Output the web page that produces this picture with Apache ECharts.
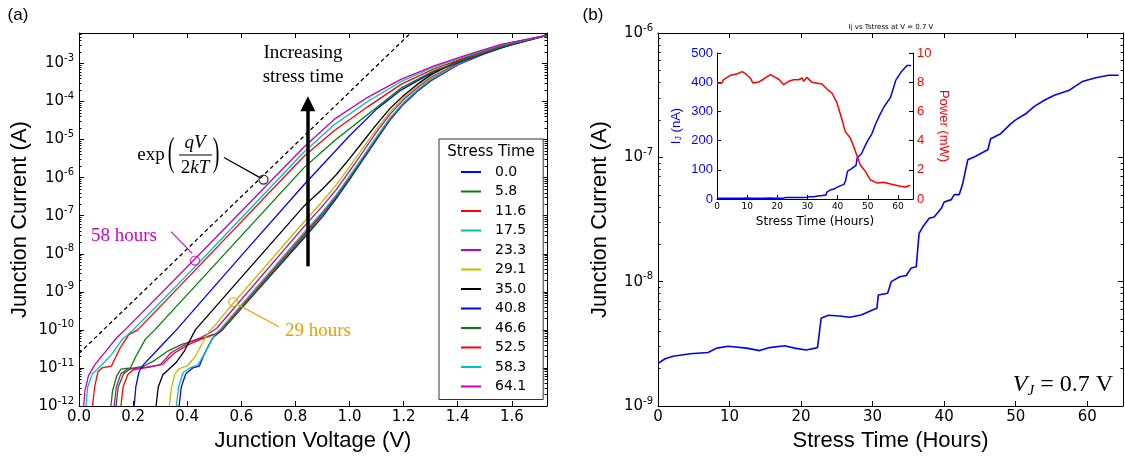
<!DOCTYPE html>
<html><head><meta charset="utf-8">
<script src="https://cdn.jsdelivr.net/npm/echarts@6/dist/echarts.min.js"></script>
<style>html,body{margin:0;padding:0;background:#fff}#c{width:1125px;height:459px}</style>
</head><body><div id="c"></div>
<script>
// ---------- Panel (a): I-V curves, values are [voltage V, log10(current A)] ----------
const stressLabels = ['0.0','5.8','11.6','17.5','23.3','29.1','35.0','40.8','46.6','52.5','58.3','64.1'];
const iv_00 = [[0.37,-12],[0.378,-11.5],[0.395,-11.15],[0.42,-11.0],[0.445,-10.95],[0.465,-10.6],[0.495,-10.2],[0.53,-10.0],[0.83,-7.6],[0.9,-7.03],[0.95,-6.56],[1.0,-6.05],[1.05,-5.53],[1.1,-5.0],[1.15,-4.48],[1.2,-4.07],[1.25,-3.74],[1.3,-3.46],[1.4,-3.04],[1.5,-2.74],[1.6,-2.5],[1.73,-2.26]];
const iv_05 = [[0.137,-12],[0.145,-11.5],[0.165,-11.15],[0.19,-11.02],[0.24,-10.95],[0.28,-10.8],[0.33,-10.55],[0.38,-10.38],[0.44,-10.25],[0.5,-10.12],[0.53,-10.0],[0.83,-7.55],[0.9,-6.97],[0.95,-6.51],[1.0,-6.01],[1.05,-5.5],[1.1,-4.97],[1.15,-4.46],[1.2,-4.05],[1.25,-3.72],[1.3,-3.44],[1.4,-3.03],[1.5,-2.73],[1.6,-2.49],[1.73,-2.26]];
const iv_11 = [[0.155,-12],[0.163,-11.5],[0.18,-11.18],[0.2,-11.05],[0.26,-10.98],[0.31,-10.9],[0.35,-10.62],[0.4,-10.4],[0.45,-10.25],[0.5,-10.12],[0.525,-10.0],[0.83,-7.5],[0.9,-6.93],[0.95,-6.48],[1.0,-5.98],[1.05,-5.47],[1.1,-4.95],[1.15,-4.44],[1.2,-4.04],[1.25,-3.71],[1.3,-3.43],[1.4,-3.03],[1.5,-2.72],[1.6,-2.49],[1.73,-2.26]];
const iv_17 = [[0.36,-12],[0.368,-11.5],[0.385,-11.12],[0.41,-11.0],[0.44,-10.92],[0.47,-10.55],[0.5,-10.15],[0.52,-10.0],[0.83,-7.45],[0.9,-6.9],[0.95,-6.46],[1.0,-5.96],[1.05,-5.45],[1.1,-4.93],[1.15,-4.43],[1.2,-4.03],[1.25,-3.7],[1.3,-3.42],[1.4,-3.02],[1.5,-2.72],[1.6,-2.48],[1.73,-2.26]];
const iv_23 = [[0.13,-12],[0.138,-11.5],[0.155,-11.15],[0.18,-11.03],[0.25,-10.98],[0.3,-10.92],[0.34,-10.6],[0.4,-10.35],[0.45,-10.2],[0.49,-10.05],[0.51,-9.95],[0.83,-7.3],[0.9,-6.75],[0.95,-6.32],[1.0,-5.83],[1.05,-5.32],[1.1,-4.8],[1.15,-4.33],[1.2,-3.95],[1.25,-3.64],[1.3,-3.37],[1.4,-2.99],[1.5,-2.7],[1.6,-2.47],[1.73,-2.26]];
const iv_29 = [[0.334,-12],[0.342,-11.5],[0.355,-11.15],[0.37,-11.02],[0.4,-10.95],[0.43,-10.7],[0.46,-10.3],[0.48,-10.05],[0.5,-9.9],[0.57,-9.3],[0.83,-7.18],[0.9,-6.62],[0.95,-6.2],[1.0,-5.72],[1.05,-5.22],[1.1,-4.72],[1.15,-4.27],[1.2,-3.9],[1.25,-3.6],[1.3,-3.34],[1.4,-2.97],[1.5,-2.69],[1.6,-2.46],[1.73,-2.26]];
const iv_35 = [[0.285,-12],[0.293,-11.5],[0.31,-11.18],[0.33,-11.05],[0.36,-10.85],[0.39,-10.55],[0.43,-10.0],[0.6,-8.62],[0.83,-6.76],[0.9,-6.3],[0.95,-5.93],[1.0,-5.5],[1.05,-5.05],[1.1,-4.6],[1.15,-4.18],[1.2,-3.84],[1.25,-3.55],[1.3,-3.3],[1.4,-2.93],[1.5,-2.66],[1.6,-2.45],[1.73,-2.26]];
const iv_40 = [[0.204,-12],[0.21,-11.5],[0.222,-11.1],[0.24,-10.9],[0.28,-10.6],[0.32,-10.3],[0.36,-10.0],[0.6,-8.05],[0.83,-6.2],[1.0,-4.9],[1.1,-4.2],[1.19,-3.7],[1.31,-3.22],[1.44,-2.88],[1.56,-2.59],[1.73,-2.26]];
const iv_46 = [[0.118,-12],[0.124,-11.6],[0.14,-11.2],[0.155,-11.03],[0.19,-11.0],[0.21,-10.7],[0.245,-10.25],[0.28,-10.0],[0.424,-8.89],[0.83,-5.75],[0.943,-5.04],[1.067,-4.34],[1.19,-3.65],[1.31,-3.2],[1.44,-2.86],[1.56,-2.57],[1.73,-2.26]];
const iv_52 = [[0.05,-12],[0.058,-11.5],[0.07,-11.1],[0.085,-11.0],[0.12,-10.95],[0.15,-10.5],[0.185,-10.12],[0.217,-10.0],[0.424,-8.47],[0.83,-5.45],[0.943,-4.77],[1.067,-4.14],[1.19,-3.55],[1.31,-3.15],[1.44,-2.82],[1.56,-2.54],[1.73,-2.26]];
const iv_58 = [[0.026,-12],[0.032,-11.5],[0.05,-11.15],[0.08,-10.95],[0.12,-10.65],[0.16,-10.25],[0.2,-10.0],[0.424,-8.38],[0.83,-5.34],[0.943,-4.61],[1.067,-4.0],[1.19,-3.48],[1.31,-3.1],[1.44,-2.79],[1.56,-2.52],[1.73,-2.26]];
const iv_64 = [[0.017,-12],[0.022,-11.6],[0.035,-11.2],[0.06,-10.9],[0.1,-10.55],[0.14,-10.2],[0.17,-10.0],[0.424,-8.17],[0.83,-5.21],[0.943,-4.47],[1.067,-3.89],[1.19,-3.42],[1.31,-3.07],[1.44,-2.76],[1.56,-2.5],[1.73,-2.26]];
const ivCurves = [iv_00, iv_05, iv_11, iv_17, iv_23, iv_29, iv_35, iv_40, iv_46, iv_52, iv_58, iv_64];
const expLine = [[0,-10.62],[1.226,-2.2]];           // exp(qV/2kT) reference
const arrowLine = [[0.846,-8.33],[0.846,-4.06]];     // "Increasing stress time" arrow
const circ58 = [0.429,-8.18], link58 = [[0.34,-7.42],[0.4185,-7.99]];
const circ29 = [0.570,-9.27], link29 = [[0.583,-9.32],[0.739,-9.92]];
const circExp = [0.682,-6.05], linkExp = [[0.536,-5.47],[0.669,-6.0]];

// ---------- Panel (b): current at 0.7 V vs stress time ----------
const bHours = [0,1.0,2.1,4.5,7.0,8.2,9.8,12.4,14.2,15.6,17.7,19.1,20.7,22.0,22.3,22.8,23.8,25.4,26.8,28.4,30.0,30.6,30.8,32.1,32.6,33.8,34.7,35.4,36.1,36.5,37.0,37.9,38.6,39.6,40.0,41.0,41.4,42.1,42.6,43.3,44.4,46.1,46.5,47.9,49.3,50.0,51.4,52.6,54.0,55.4,57.5,59.3,61.2,63.0,64.4];
const bCurrent_nA = [2.20,2.40,2.51,2.63,2.69,2.92,3.02,2.92,2.79,2.95,3.05,2.92,2.82,2.92,2.95,5.07,5.37,5.30,5.18,5.40,5.92,6.11,7.82,8.07,10.0,10.96,11.2,12.9,13.2,24.5,27.5,32.4,33.1,38.9,43.7,45.7,50.1,50.1,61.7,95.5,102,115,141,155,186,200,224,257,288,316,347,407,437,457,457];
const pHours = [0,1.5,2.2,4.4,6.6,8.3,9.4,11.0,11.9,13.8,15.5,17.7,19.3,20.4,22.1,23.8,25.4,27.1,28.2,28.7,29.8,31.5,34.8,36.5,38.1,39.8,41.4,42.5,44.2,45.3,47.5,49.2,50.8,53.0,55.2,58.6,60.8,62.4,64.1];
const powerMW = [7.95,7.92,8.17,8.47,8.56,8.72,8.58,8.29,7.95,8.01,8.22,8.52,8.33,8.22,7.83,8.06,8.17,8.17,8.29,8.06,8.33,7.99,7.88,7.53,7.26,6.58,5.48,4.63,4.18,3.61,2.35,1.89,1.32,1.10,1.14,0.98,0.87,0.82,0.94];

// ---------- styles ----------
const curveColors = ['#0000ff','#008000','#ff0000','#00bfbf','#bf00bf','#bfbf00','#000000','#0000ff','#008000','#ff0000','#00bfbf','#bf00bf'];
const SANS = 'DejaVu Sans', ARIAL = 'Liberation Sans', SERIF = 'Liberation Serif';

function minorVals(lo, hi){ const out=[]; for(let n=Math.floor(lo); n<=Math.ceil(hi); n++){ for(let k=2;k<=9;k++){ const v=n+Math.log10(k); if(v>lo && v<hi) out.push(v);} } return out; }
const isMult = (v, step) => Math.abs(v/step - Math.round(v/step)) < 1e-6;
const expRich = { b:{fontSize:15, fontFamily:SANS, color:'#000', lineHeight:20}, s:{fontSize:10, fontFamily:SANS, color:'#000', verticalAlign:'top', lineHeight:10} };
const expFmt = v => isMult(v,1) ? '{b|10}{s|' + Math.round(v) + '}' : '';
const line1 = {show:true, lineStyle:{color:'#000', width:1}};
const tickIn = (len) => ({show:true, inside:true, length:len, lineStyle:{color:'#000', width:1}});

function ax(grid, min, max, step, pos, labelOpt, extra){ return Object.assign({type:'value', gridIndex:grid, min, max, interval:step, position:pos, axisLine:line1, axisTick:tickIn(5), splitLine:{show:false}, axisLabel:labelOpt || {show:false}}, extra||{}); }
function yMinor(grid, min, max, pos){ return {type:'value', gridIndex:grid, min, max, position:pos, axisLine:{show:false}, splitLine:{show:false}, axisLabel:{show:false}, axisTick:Object.assign(tickIn(2.5), {customValues: minorVals(min,max)})}; }
const bigName = {fontSize:22, fontFamily:ARIAL, color:'#000'};

const A_YMIN=-12, A_YMAX=-2.2, A_XMAX=1.73;
const xAxis = [
  ax(0, 0, A_XMAX, 0.2, 'bottom', {show:true, margin:4, fontSize:15, fontFamily:SANS, color:'#000', formatter:v=> isMult(v,0.2)? v.toFixed(1):''},
      {name:'Junction Voltage (V)', nameLocation:'middle', nameGap:24, nameTextStyle:bigName}),
  ax(0, 0, A_XMAX, 0.2, 'top'),
  ax(1, 0, 65, 10, 'bottom', {show:true, margin:4, fontSize:15, fontFamily:SANS, color:'#000', formatter:v=> isMult(v,10)? String(v):''},
      {name:'Stress Time (Hours)', nameLocation:'middle', nameGap:24, nameTextStyle:bigName}),
  ax(1, 0, 65, 10, 'top'),
  Object.assign(ax(2, 0, 65, 10, 'bottom', {show:true, margin:3, fontSize:9, fontFamily:SANS, color:'#000', formatter:v=> isMult(v,10)? String(v):''},
      {name:'Stress Time (Hours)', nameLocation:'middle', nameGap:17, nameTextStyle:{fontSize:12, fontFamily:SANS, color:'#000'}}), {axisTick:tickIn(4)})
];
const yAxis = [
  ax(0, A_YMIN, A_YMAX, 1, 'left', {show:true, margin:5, formatter:expFmt, rich:expRich},
      {name:'Junction Current (A)', nameLocation:'middle', nameRotate:90, nameGap:48, nameTextStyle:bigName}),
  yMinor(0, A_YMIN, A_YMAX, 'left'),
  ax(0, A_YMIN, A_YMAX, 1, 'right'),
  yMinor(0, A_YMIN, A_YMAX, 'right'),
  ax(1, -9, -6, 1, 'left', {show:true, margin:5, formatter:expFmt, rich:expRich},
      {name:'Junction Current (A)', nameLocation:'middle', nameRotate:90, nameGap:47, nameTextStyle:bigName}),
  yMinor(1, -9, -6, 'left'),
  ax(1, -9, -6, 1, 'right'),
  yMinor(1, -9, -6, 'right'),
  Object.assign(ax(2, 0, 500, 100, 'left', {show:true, margin:4, fontSize:13, fontFamily:ARIAL, color:'#0000ff'},
      {name:'{a|I}{s|J}{a| (nA)}', nameLocation:'middle', nameRotate:90, nameGap:34,
       nameTextStyle:{color:'#0000ff', rich:{a:{fontSize:13, fontFamily:ARIAL, color:'#0000ff'}, s:{fontSize:9, fontFamily:ARIAL, color:'#0000ff', verticalAlign:'bottom', lineHeight:9}}}}), {axisTick:tickIn(4)}),
  Object.assign(ax(2, 0, 10, 2, 'right', {show:true, margin:4, fontSize:13, fontFamily:ARIAL, color:'#ff0000'},
      {name:'Power (mW)', nameLocation:'middle', nameRotate:-90, nameGap:24, nameTextStyle:{fontSize:13, fontFamily:ARIAL, color:'#ff0000'}}), {axisTick:tickIn(4)})
];

const series = [];
ivCurves.forEach((d,i)=>{
  series.push({type:'line', name:stressLabels[i], xAxisIndex:0, yAxisIndex:0, data:d, symbol:'none', smooth:false,
    lineStyle:{color:curveColors[i], width:1.3}, itemStyle:{color:curveColors[i]}, z:3});
});
series.push({type:'line', name:'exp', xAxisIndex:0, yAxisIndex:0, data:expLine, symbol:'none', lineStyle:{color:'#000', width:1.3, type:[4,3]}, z:2,
  markLine:{silent:true, symbol:['none','triangle'], symbolSize:[15,15], label:{show:false},
    lineStyle:{color:'#000', width:3.5, type:'solid'}, emphasis:{disabled:true},
    data:[[{coord:arrowLine[0]},{coord:arrowLine[1]}]]}});
const annot = [[circ58, link58, '#cc00cc'], [circ29, link29, '#e8a000'], [circExp, linkExp, '#000']];
annot.forEach(([c, l, col])=>{
  series.push({type:'line', xAxisIndex:0, yAxisIndex:0, data:l, symbol:'none', lineStyle:{color:col, width:1.2}, z:4});
  series.push({type:'scatter', xAxisIndex:0, yAxisIndex:0, data:[c], symbol:'circle', symbolSize:9, itemStyle:{color:'rgba(0,0,0,0)', borderColor:col, borderWidth:1.3}, z:5});
});
series.push({type:'line', name:'Ij', xAxisIndex:2, yAxisIndex:4, data:bHours.map((t,i)=>[t, Math.log10(bCurrent_nA[i]*1e-9)]), symbol:'none', lineStyle:{color:'#0000ff', width:1.6}});
series.push({type:'line', name:'Ij inset', xAxisIndex:4, yAxisIndex:8, data:bHours.map((t,i)=>[t, bCurrent_nA[i]]), symbol:'none', lineStyle:{color:'#0000ff', width:1.5}});
series.push({type:'line', name:'Power', xAxisIndex:4, yAxisIndex:9, data:pHours.map((t,i)=>[t, powerMW[i]]), symbol:'none', lineStyle:{color:'#ff0000', width:1.5}});

const T = (x,y,text,style,extra)=> Object.assign({type:'text', x, y, z:20, style:Object.assign({text, fill:'#000', align:'center', verticalAlign:'middle'}, style)}, extra||{});
const graphic = [
  T(18,15,'(a)',{fontSize:17, fontFamily:ARIAL}),
  T(593,15,'(b)',{fontSize:17, fontFamily:ARIAL}),
  T(891,27,'Ij vs Tstress at V = 0.7 V',{fontSize:7, fontFamily:SANS}),
  T(303,65,'Increasing\nstress time',{fontSize:19, fontFamily:SERIF, lineHeight:24}),
  T(124,236,'58 hours',{fontSize:19, fontFamily:SERIF, fill:'#cc00cc'}),
  T(318,331,'29 hours',{fontSize:19, fontFamily:SERIF, fill:'#e8a000'}),
  T(151,155,'exp',{fontSize:19, fontFamily:SERIF}),
  T(171,154,'(',{fontSize:20, fontFamily:SERIF}, {scaleY:2.0}),
  T(216,154,')',{fontSize:20, fontFamily:SERIF}, {scaleY:2.0}),
  T(195,143,'qV',{fontSize:19, fontFamily:SERIF, fontStyle:'italic'}),
  {type:'line', z:20, shape:{x1:179,y1:155,x2:212,y2:155}, style:{stroke:'#000', lineWidth:1}},
  T(195,168,'{n|2}{i|kT}',{rich:{n:{fontSize:19, fontFamily:SERIF}, i:{fontSize:19, fontFamily:SERIF, fontStyle:'italic'}}}),
  T(491,152,'Stress Time',{fontSize:15, fontFamily:SANS}),
  T(1113,385,'{v|V}{j|J}{e| = 0.7 V}',{align:'right', rich:{v:{fontSize:24, fontFamily:SERIF, fontStyle:'italic', lineHeight:28}, j:{fontSize:15, fontFamily:SERIF, fontStyle:'italic', verticalAlign:'bottom', lineHeight:15}, e:{fontSize:24, fontFamily:SERIF, lineHeight:28}}})
];

const chart = echarts.init(document.getElementById('c'), null, {renderer:'canvas'});
chart.setOption({
  animation:false,
  backgroundColor:'#fff',
  grid:[
    {left:79, right:578, top:33, bottom:53, containLabel:false, outerBoundsMode:'none'},
    {left:658, right:2, top:33, bottom:53, containLabel:false, outerBoundsMode:'none'},
    {left:717, right:212, top:53, bottom:260, containLabel:false, outerBoundsMode:'none'}
  ],
  legend:{show:true, data:stressLabels, orient:'vertical', left:439, top:139, padding:[26,17,6,22], itemGap:5.5, itemWidth:20, itemHeight:2, icon:'rect',
    borderColor:'#333', borderWidth:1, borderRadius:0, backgroundColor:'#fff', z:10, selectedMode:false,
    textStyle:{fontSize:14, fontFamily:SANS, color:'#000', lineHeight:14, padding:[0,0,0,9]}},
  xAxis, yAxis, series, graphic
});
</script></body></html>
